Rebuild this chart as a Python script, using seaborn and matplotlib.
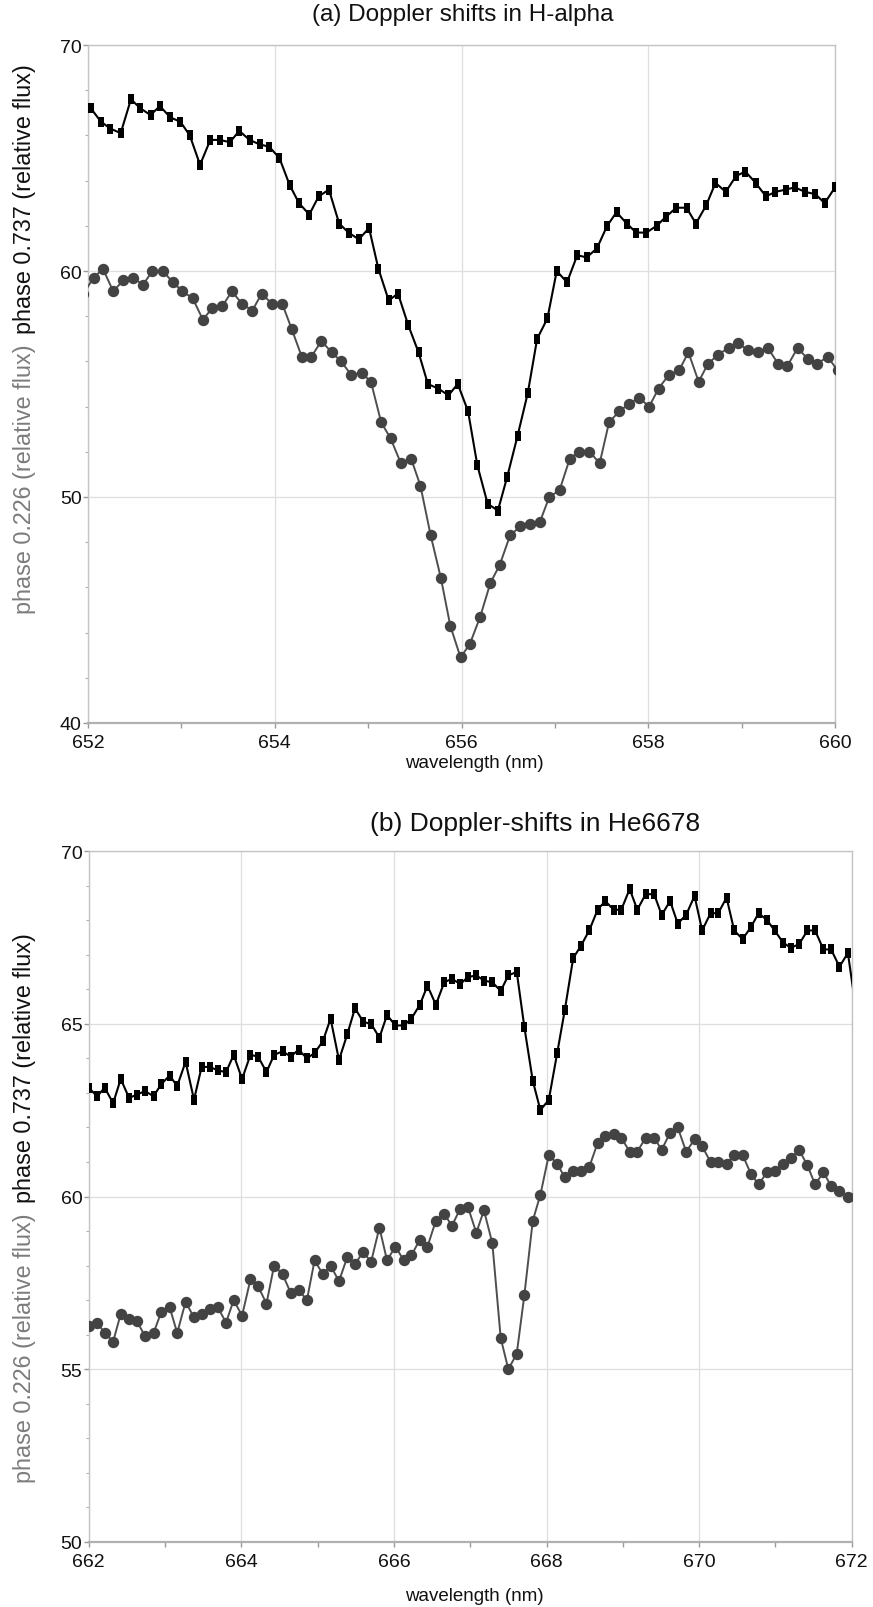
import matplotlib
matplotlib.use("Agg")
import matplotlib.pyplot as plt
from matplotlib.path import Path
from matplotlib.ticker import MultipleLocator
import seaborn as sns

sns.set_theme(style="white")
plt.rcParams["font.family"] = ["Liberation Sans", "DejaVu Sans"]

# ---------------- (a) H-alpha region ----------------
wl_a_737 = [
    652.03, 652.14, 652.24, 652.35, 652.46, 652.56, 652.67, 652.77, 652.88, 652.99,
    653.09, 653.20, 653.31, 653.41, 653.52, 653.62, 653.73, 653.84, 653.94, 654.05,
    654.16, 654.26, 654.37, 654.47, 654.58, 654.69, 654.79, 654.90, 655.01, 655.11,
    655.22, 655.32, 655.43, 655.54, 655.64, 655.75, 655.86, 655.96, 656.07, 656.17,
    656.28, 656.39, 656.49, 656.60, 656.71, 656.81, 656.92, 657.02, 657.13, 657.24,
    657.34, 657.45, 657.56, 657.66, 657.77, 657.87, 657.98, 658.09, 658.19, 658.30,
    658.41, 658.51, 658.62, 658.72, 658.83, 658.94, 659.04, 659.15, 659.26, 659.36,
    659.47, 659.57, 659.68, 659.79, 659.89, 660.00,
]
flux_a_737 = [
    67.2, 66.6, 66.3, 66.1, 67.6, 67.2, 66.9, 67.3, 66.8, 66.6,
    66.0, 64.7, 65.8, 65.8, 65.7, 66.2, 65.8, 65.6, 65.5, 65.0,
    63.8, 63.0, 62.5, 63.3, 63.6, 62.1, 61.7, 61.4, 61.9, 60.1,
    58.7, 59.0, 57.6, 56.4, 55.0, 54.8, 54.5, 55.0, 53.8, 51.4,
    49.7, 49.4, 50.9, 52.7, 54.6, 57.0, 57.9, 60.0, 59.5, 60.7,
    60.6, 61.0, 62.0, 62.6, 62.1, 61.7, 61.7, 62.0, 62.4, 62.8,
    62.8, 62.1, 62.9, 63.9, 63.5, 64.2, 64.4, 63.9, 63.3, 63.5,
    63.6, 63.7, 63.5, 63.4, 63.0, 63.7,
]
wl_a_226 = [
    651.95, 652.06, 652.16, 652.27, 652.38, 652.48, 652.59, 652.69, 652.80, 652.91,
    653.01, 653.12, 653.23, 653.33, 653.44, 653.54, 653.65, 653.76, 653.86, 653.97,
    654.08, 654.18, 654.29, 654.39, 654.50, 654.61, 654.71, 654.82, 654.93, 655.03,
    655.14, 655.24, 655.35, 655.46, 655.56, 655.67, 655.78, 655.88, 655.99, 656.09,
    656.20, 656.31, 656.41, 656.52, 656.63, 656.73, 656.84, 656.94, 657.05, 657.16,
    657.26, 657.37, 657.48, 657.58, 657.69, 657.79, 657.90, 658.01, 658.11, 658.22,
    658.33, 658.43, 658.54, 658.64, 658.75, 658.86, 658.96, 659.07, 659.18, 659.28,
    659.39, 659.49, 659.60, 659.71, 659.81, 659.92, 660.03,
]
flux_a_226 = [
    59.0, 59.7, 60.1, 59.1, 59.6, 59.7, 59.4, 60.0, 60.0, 59.5,
    59.1, 58.8, 57.85, 58.35, 58.45, 59.1, 58.55, 58.25, 59.0, 58.55,
    58.55, 57.45, 56.2, 56.2, 56.9, 56.4, 56.0, 55.4, 55.5, 55.1,
    53.3, 52.6, 51.5, 51.7, 50.5, 48.3, 46.4, 44.3, 42.9, 43.5,
    44.7, 46.2, 47.0, 48.3, 48.7, 48.8, 48.9, 50.0, 50.3, 51.7,
    52.0, 52.0, 51.5, 53.3, 53.8, 54.1, 54.4, 54.0, 54.8, 55.4,
    55.6, 56.4, 55.1, 55.9, 56.3, 56.6, 56.8, 56.5, 56.4, 56.6,
    55.9, 55.8, 56.6, 56.1, 55.9, 56.2, 55.6,
]

# ---------------- (b) He 6678 region ----------------
wl_b = [
    662.00, 662.11, 662.21, 662.32, 662.42, 662.53, 662.63, 662.74, 662.85, 662.95,
    663.06, 663.16, 663.27, 663.38, 663.48, 663.59, 663.69, 663.80, 663.90, 664.01,
    664.12, 664.22, 664.33, 664.43, 664.54, 664.65, 664.75, 664.86, 664.96, 665.07,
    665.17, 665.28, 665.39, 665.49, 665.60, 665.70, 665.81, 665.91, 666.02, 666.13,
    666.23, 666.34, 666.44, 666.55, 666.66, 666.76, 666.87, 666.97, 667.08, 667.18,
    667.29, 667.40, 667.50, 667.61, 667.71, 667.82, 667.92, 668.03, 668.14, 668.24,
    668.35, 668.45, 668.56, 668.67, 668.77, 668.88, 668.98, 669.09, 669.19, 669.30,
    669.41, 669.51, 669.62, 669.72, 669.83, 669.94, 670.04, 670.15, 670.25, 670.36,
    670.46, 670.57, 670.68, 670.78, 670.89, 670.99, 671.10, 671.20, 671.31, 671.42,
    671.52, 671.63, 671.73, 671.84, 671.95, 672.05,
]
flux_b_737 = [
    63.15, 62.9, 63.15, 62.7, 63.4, 62.85, 62.95, 63.05, 62.9, 63.25,
    63.5, 63.2, 63.9, 62.8, 63.75, 63.75, 63.65, 63.6, 64.1, 63.4,
    64.1, 64.05, 63.6, 64.1, 64.2, 64.05, 64.25, 64.0, 64.15, 64.5,
    65.15, 63.95, 64.7, 65.45, 65.05, 65.0, 64.6, 65.25, 64.95, 64.95,
    65.15, 65.55, 66.1, 65.55, 66.2, 66.3, 66.15, 66.35, 66.4, 66.25,
    66.2, 65.95, 66.4, 66.5, 64.9, 63.35, 62.5, 62.8, 64.15, 65.4,
    66.9, 67.25, 67.7, 68.3, 68.55, 68.3, 68.3, 68.9, 68.3, 68.75,
    68.75, 68.15, 68.55, 67.9, 68.15, 68.7, 67.7, 68.2, 68.2, 68.65,
    67.7, 67.45, 67.8, 68.2, 68.0, 67.7, 67.35, 67.2, 67.3, 67.7,
    67.7, 67.15, 67.15, 66.65, 67.05, 65.5,
]
flux_b_226 = [
    56.25, 56.35, 56.05, 55.8, 56.6, 56.45, 56.4, 55.95, 56.05, 56.65,
    56.8, 56.05, 56.95, 56.5, 56.6, 56.75, 56.8, 56.35, 57.0, 56.55,
    57.6, 57.4, 56.9, 58.0, 57.75, 57.2, 57.3, 57.0, 58.15, 57.75,
    58.0, 57.55, 58.25, 58.05, 58.4, 58.1, 59.1, 58.15, 58.55, 58.15,
    58.3, 58.75, 58.55, 59.3, 59.5, 59.15, 59.65, 59.7, 58.95, 59.6,
    58.65, 55.9, 55.0, 55.45, 57.15, 59.3, 60.05, 61.2, 60.95, 60.55,
    60.75, 60.75, 60.85, 61.55, 61.75, 61.8, 61.7, 61.3, 61.3, 61.7,
    61.7, 61.35, 61.85, 62.0, 61.3, 61.65, 61.45, 61.0, 61.0, 60.95,
    61.2, 61.2, 60.65, 60.35, 60.7, 60.75, 60.95, 61.1, 61.35, 60.9,
    60.35, 60.7, 60.3, 60.15, 60.0, 60.0,
]

titles = ["(a) Doppler shifts in H-alpha", "(b) Doppler-shifts in He6678"]
xlabel = "wavelength (nm)"
label_226 = "phase 0.226 (relative flux)"
label_737 = "phase 0.737 (relative flux)"

W, H = 873, 1608
fig = plt.figure(figsize=(W / 100, H / 100), dpi=100)
fig.patch.set_facecolor("white")


def axes_px(left, top, right, bottom):
    return fig.add_axes([left / W, 1 - bottom / H, (right - left) / W, (bottom - top) / H])


ax_a = axes_px(88, 46, 835, 724)
ax_b = axes_px(88.7, 852, 851.7, 1543)

# tall filled bar used as the marker of the phase 0.737 spectrum
bar_marker = Path(
    [(-0.3, -0.5), (0.3, -0.5), (0.3, 0.5), (-0.3, 0.5), (-0.3, -0.5)],
    [Path.MOVETO, Path.LINETO, Path.LINETO, Path.LINETO, Path.CLOSEPOLY],
)

BLACK = "#000000"
DARK = "#434343"
LABEL_GREY = "#7c7c7c"


def draw_spectra(ax, wl_top, top, wl_low, low):
    sns.lineplot(x=wl_low, y=low, ax=ax, color="#4e4e4e", lw=1.4, marker="o",
                 markersize=8.2, markerfacecolor=DARK, markeredgecolor=DARK,
                 markeredgewidth=0, errorbar=None, sort=False, zorder=3)
    sns.lineplot(x=wl_top, y=top, ax=ax, color=BLACK, lw=1.5, marker=bar_marker,
                 markersize=7.6, markerfacecolor=BLACK, markeredgecolor=BLACK,
                 markeredgewidth=0, errorbar=None, sort=False, zorder=4)


draw_spectra(ax_a, wl_a_737, flux_a_737, wl_a_226, flux_a_226)
draw_spectra(ax_b, wl_b, flux_b_737, wl_b, flux_b_226)

ax_a.set_xlim(652, 660)
ax_a.set_ylim(40, 70)
ax_b.set_xlim(662, 672)
ax_b.set_ylim(50, 70)

for ax, ymaj, ymin in [(ax_a, 10, 2), (ax_b, 5, 1)]:
    ax.xaxis.set_major_locator(MultipleLocator(2))
    ax.xaxis.set_minor_locator(MultipleLocator(1))
    ax.yaxis.set_major_locator(MultipleLocator(ymaj))
    ax.yaxis.set_minor_locator(MultipleLocator(ymin))
    ax.grid(True, which="major", color="#dedede", lw=0.9)
    ax.set_axisbelow(True)
    for side in ["top", "right", "left"]:
        ax.spines[side].set_visible(True)
        ax.spines[side].set_color("#c4c4c4")
        ax.spines[side].set_linewidth(1.0)
    ax.spines["bottom"].set_color("#b0b0b0")
    ax.spines["bottom"].set_linewidth(1.6)
    ax.tick_params(axis="both", which="major", direction="out", width=1,
                   color="#9a9a9a", labelsize=14, labelcolor="#111111")
    ax.tick_params(axis="y", which="major", length=3.5, pad=1, left=True)
    ax.tick_params(axis="x", which="major", length=3.5, pad=4.6, bottom=True)
    ax.tick_params(axis="y", which="minor", direction="out", length=2.5, width=0.8,
                   color="#b0b0b0", left=True)
    ax.tick_params(axis="x", which="minor", direction="out", length=3.5, width=1,
                   color="#9a9a9a", bottom=True)
    ax.set_xlabel("")
    ax.set_ylabel("")

# titles and axis labels
fig.text(463 / W, 1 - 15 / H, titles[0], ha="center", va="center", fontsize=17.5, color="#111111")
fig.text(535 / W, 1 - 824 / H, titles[1], ha="center", va="center", fontsize=19, color="#111111")
fig.text(474 / W, 1 - 764 / H, xlabel, ha="center", va="center", fontsize=13.5, color="#111111")
fig.text(474 / W, 1 - 1597 / H, xlabel, ha="center", va="center", fontsize=13.5, color="#111111")

renderer = fig.canvas.get_renderer()


def two_tone_ylabel(junction_px, x_px, size=16.8, gap=10):
    """Grey lower part and black upper part, stacked along one rotated line."""
    low = fig.text(0, 0, label_226, rotation=90, fontsize=size, color=LABEL_GREY,
                   ha="center", va="center")
    high = fig.text(0, 0, label_737, rotation=90, fontsize=size, color="#111111",
                    ha="center", va="center")
    h_low = low.get_window_extent(renderer).height
    h_high = high.get_window_extent(renderer).height
    yj = H - junction_px
    low.set_position((x_px / W, (yj - gap / 2 - h_low / 2) / H))
    high.set_position((x_px / W, (yj + gap / 2 + h_high / 2) / H))


two_tone_ylabel(339, 25)
two_tone_ylabel(1208, 25)

fig.savefig("out.png", dpi=100, facecolor="white")
